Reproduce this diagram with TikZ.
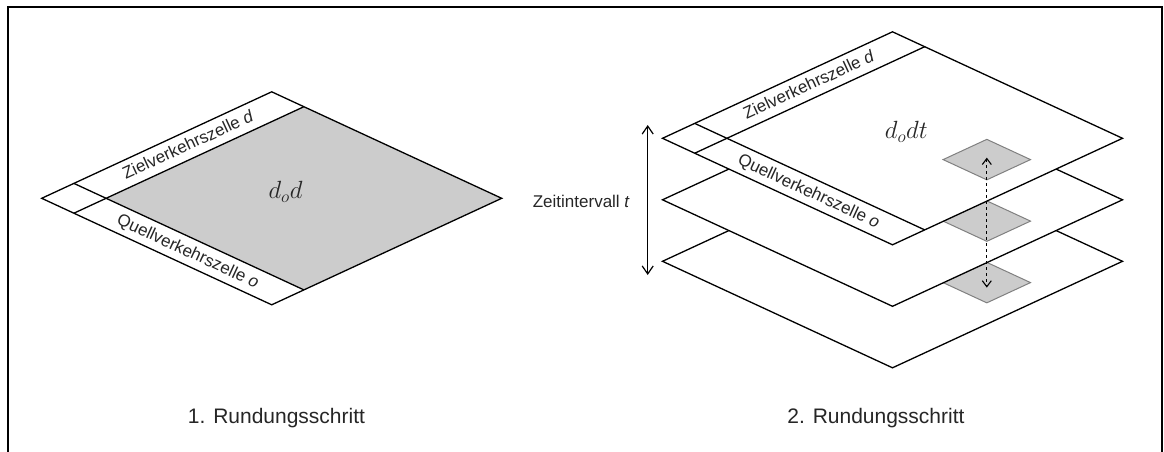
\documentclass[tikz,border=0pt]{standalone}
\usepackage{fontspec}
\setmainfont{Liberation Sans}
\usetikzlibrary{arrows.meta}
\tikzstyle{plane}=[
	draw=black,
	fill=white,
	line width=1.3pt,
	line join=miter
]
\tikzstyle{stripline}=[
	draw=black,
	line width=1.3pt
]
\tikzstyle{cell}=[
	draw=black!50,
	fill=black!20,
	line width=1pt
]
\tikzstyle{celllabel}=[
	font=\fontsize{17}{20}\selectfont,
	text=black!85,
	inner sep=0pt
]
\tikzstyle{caption}=[
	font=\fontsize{21}{25}\selectfont,
	text=black!85,
	anchor=base
]
\tikzstyle{timearrow}=[
	<->,
	>={Straight Barb[length=8pt,width=11pt]},
	line width=1.2pt
]
\tikzstyle{cellarrow}=[
	<->,
	>={Straight Barb[length=6pt,width=9pt]},
	dashed,
	line width=1.1pt
]
\tikzset{on plane/.style={shift={#1}, x={(230pt,106.5pt)}, y={(230pt,-106.5pt)}}}

\begin{document}
\begin{tikzpicture}[x=1pt,y=-1pt]
\useasboundingbox (0,0) rectangle (1164,452);
\draw[line width=2pt] (8.3,452) -- (8.3,6.7) -- (1161.7,6.7) -- (1161.7,452);

% 1. Rundungsschritt
\begin{scope}[on plane={(41.7,198.3)}]
\fill[black!20] (0.14,0.14) -- (1,0.14) -- (1,1) -- (0.14,1) -- cycle;
\draw[plane, fill=none] (0,0) -- (1,0) -- (1,1) -- (0,1) -- cycle;
\draw[stripline] (0,0.14) -- (1,0.14);
\draw[stripline] (0.14,0) -- (0.14,1);
\node[celllabel, rotate=24.84] (ziel1) at (0.57,0.065) {Zielverkehrszelle \textit{d}};
\node[celllabel, rotate=-24.84] (quell1) at (0.065,0.57) {Quellverkehrszelle \textit{o}};
\node[font=\fontsize{23}{27}\selectfont, text=black!85] (dod) at (0.56,0.5) {$d_od$};
\end{scope}
\node[caption] (step1) at (276.5,423) {1. Rundungsschritt};

% 2. Rundungsschritt
\begin{scope}[on plane={(662.5,261.3)}]
\draw[plane] (0,0) -- (1,0) -- (1,1) -- (0,1) -- cycle;
\draw[cell] (0.51,0.71) -- (0.70,0.71) -- (0.70,0.90) -- (0.51,0.90) -- cycle;
\coordinate (cellBot) at (0.605,0.805);
\end{scope}
\begin{scope}[on plane={(662.5,199.8)}]
\draw[plane] (0,0) -- (1,0) -- (1,1) -- (0,1) -- cycle;
\draw[cell] (0.51,0.71) -- (0.70,0.71) -- (0.70,0.90) -- (0.51,0.90) -- cycle;
\end{scope}
\begin{scope}[on plane={(662.5,138.3)}]
\draw[plane] (0,0) -- (1,0) -- (1,1) -- (0,1) -- cycle;
\draw[stripline] (0,0.14) -- (1,0.14);
\draw[stripline] (0.14,0) -- (0.14,1);
\draw[cell] (0.51,0.71) -- (0.70,0.71) -- (0.70,0.90) -- (0.51,0.90) -- cycle;
\coordinate (cellTop) at (0.605,0.805);
\node[celllabel, rotate=24.84] (ziel2) at (0.57,0.065) {Zielverkehrszelle \textit{d}};
\node[celllabel, rotate=-24.84] (quell2) at (0.065,0.57) {Quellverkehrszelle \textit{o}};
\node[font=\fontsize{23}{27}\selectfont, text=black!85] (dodt) at (0.56,0.5) {$d_odt$};
\end{scope}
\draw[cellarrow] ([yshift=2pt]cellTop) -- ([yshift=-5pt]cellBot);

\coordinate (tTop) at (647.7,125);
\coordinate (tBot) at (647.7,275);
\draw[timearrow] (tTop) -- (tBot);
\node[celllabel, anchor=east] (zeit) at (630,201) {Zeitintervall \textit{t}};
\node[caption] (step2) at (876,423) {2. Rundungsschritt};
\end{tikzpicture}
\end{document}
